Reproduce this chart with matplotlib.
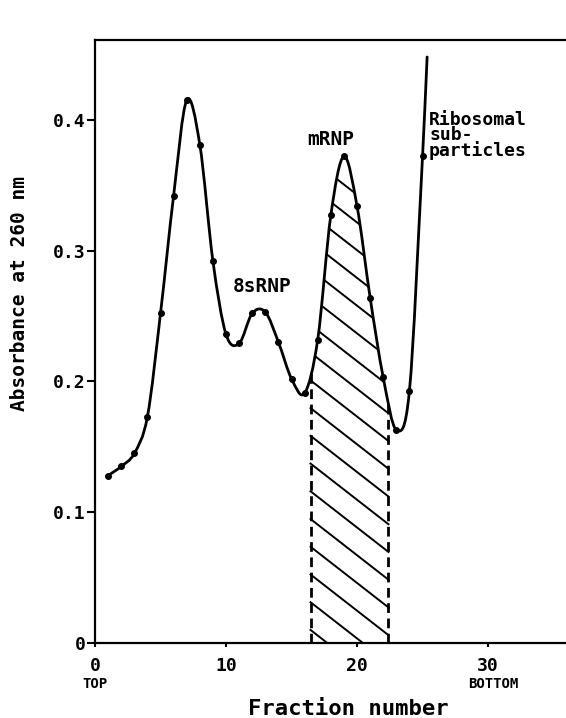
import numpy as np
import matplotlib.pyplot as plt
from matplotlib.path import Path
from matplotlib.patches import PathPatch

# absorbance
fractions = [1, 2, 3, 4, 5, 6, 7, 8, 9, 10, 11, 12, 13, 14, 15, 16, 17, 18, 19, 20, 21, 22, 23, 24, 25]
absorbance = [0.128, 0.135, 0.145, 0.173, 0.252, 0.342, 0.415, 0.381, 0.292, 0.236, 0.229, 0.252, 0.253,
              0.230, 0.202, 0.191, 0.232, 0.327, 0.372, 0.334, 0.264, 0.203, 0.163, 0.193, 0.372]
# trace runs off the top past the last fraction
trace_end = (25.35, 0.448)

mrnp_pool = (16.45, 22.4)
x_ticks = [0, 10, 20, 30]
y_ticks = [0, 0.1, 0.2, 0.3, 0.4]
y_ticklabels = ['0', '0.1', '0.2', '0.3', '0.4']

plt.rcParams['font.family'] = ['DejaVu Sans Mono']
plt.rcParams['font.weight'] = 'bold'


def smooth_path(xs, ys):
    xs = np.asarray(xs, float)
    ys = np.asarray(ys, float)
    n = len(xs)
    m = np.zeros(n)
    m[0] = (ys[1] - ys[0]) / (xs[1] - xs[0])
    m[-1] = (ys[-1] - ys[-2]) / (xs[-1] - xs[-2])
    m[1:-1] = (ys[2:] - ys[:-2]) / (xs[2:] - xs[:-2])
    verts = [(xs[0], ys[0])]
    codes = [Path.MOVETO]
    for i in range(n - 1):
        h = xs[i + 1] - xs[i]
        verts += [(xs[i] + h / 3, ys[i] + m[i] * h / 3),
                  (xs[i + 1] - h / 3, ys[i + 1] - m[i + 1] * h / 3),
                  (xs[i + 1], ys[i + 1])]
        codes += [Path.CURVE4] * 3
    return verts, codes


fig = plt.figure(figsize=(5.66, 7.18), dpi=100)
ax = fig.add_axes([95 / 566, 75 / 718, 471 / 566, 603 / 718])
ax.set_xlim(0, 35.95)
ax.set_ylim(0, 0.461)

line_x = fractions + [trace_end[0]]
line_y = absorbance + [trace_end[1]]
verts, codes = smooth_path(line_x, line_y)

ax.add_patch(PathPatch(Path(verts, codes), facecolor='none', edgecolor='black', lw=2.0,
                       capstyle='round', joinstyle='round'))

# region under the curve, used to clip the hatching
under = PathPatch(Path(verts + [(line_x[-1], 0), (line_x[0], 0), (line_x[0], line_y[0])],
                       codes + [Path.LINETO, Path.LINETO, Path.CLOSEPOLY]),
                  facecolor='none', edgecolor='none')
ax.add_patch(under)

x0, x1 = mrnp_pool
slope = -0.0078
for b in np.arange(0.010, 0.46, 0.0212):
    ln, = ax.plot([x0, x1], [b, b + slope * (x1 - x0)], color='black', lw=1.4)
    ln.set_clip_path(under)
for xv in mrnp_pool:
    ln, = ax.plot([xv, xv], [0, 0.3], color='black', lw=2.0, dashes=(3.5, 2))
    ln.set_clip_path(under)

ax.plot(fractions, absorbance, 'o', color='black', ms=4)

ax.spines['right'].set_visible(False)
for s in ['left', 'bottom', 'top']:
    ax.spines[s].set_linewidth(1.6)

ax.set_yticks(y_ticks)
ax.set_yticklabels(y_ticklabels)
ax.set_xticks(x_ticks)
ax.tick_params(axis='y', length=6, width=1.5, pad=1, labelsize=13)
ax.tick_params(axis='x', length=3, width=1.5, pad=7, labelsize=13)

ax.set_xlabel('Fraction number', fontsize=16, fontweight='bold')
ax.xaxis.set_label_coords(0.537, -0.093)
ax.set_ylabel('Absorbance at 260 nm', fontsize=14, fontweight='bold')
ax.yaxis.set_label_coords(-0.14, 0.58)

ax.text(0, -0.056, 'TOP', transform=ax.get_xaxis_transform(), ha='center', va='top', fontsize=10)
ax.text(30.4, -0.056, 'BOTTOM', transform=ax.get_xaxis_transform(), ha='center', va='top', fontsize=10)

ax.text(10.5, 0.268, '8sRNP', fontsize=14)
ax.text(16.2, 0.381, 'mRNP', fontsize=14)
ax.text(25.5, 0.407, 'Ribosomal\nsub-\nparticles', fontsize=13, va='top', linespacing=0.8)

fig.savefig('out.png', dpi=100)
